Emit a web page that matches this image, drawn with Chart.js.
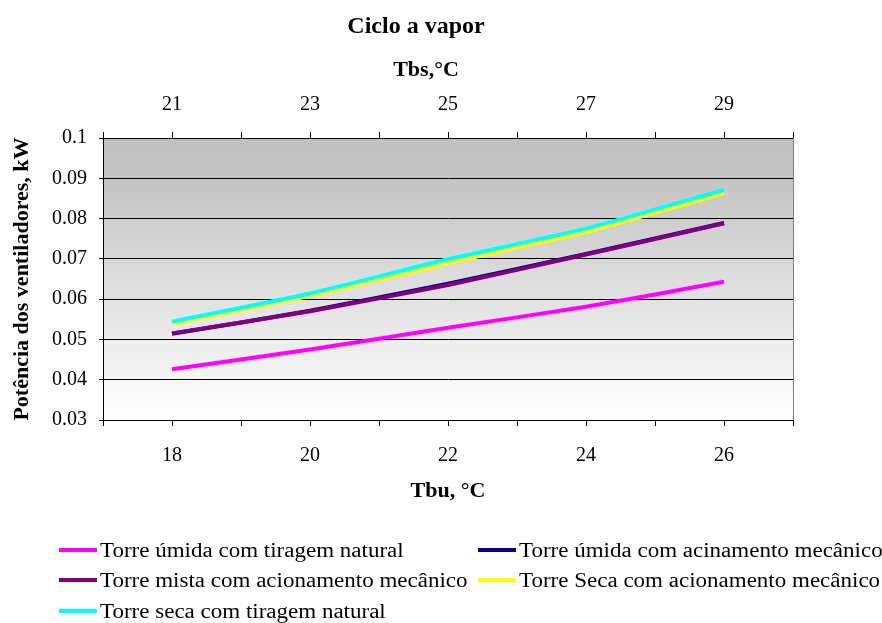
<!DOCTYPE html>
<html>
<head>
<meta charset="utf-8">
<script src="https://cdn.jsdelivr.net/npm/chart.js@4"></script>
<style>
  html, body { margin: 0; padding: 0; background: #fff; }
  #wrap { position: relative; width: 882px; height: 623px; }
  #c { position: absolute; left: 0; top: 0; }
  #legend { position: absolute; left: 0; top: 0; width: 882px; height: 623px; pointer-events: none;
    font-family: "Liberation Serif", "Times New Roman", serif; font-size: 20px; color: #000; }
  .item { position: absolute; white-space: nowrap; line-height: 20px; height: 20px; }
  .sw { position: absolute; top: 8px; height: 4px; width: 38px; }
  .tx { position: absolute; left: 41px; top: 0; transform: scaleX(1.15); transform-origin: 0 50%; }
</style>
</head>
<body>
<div id="wrap">
  <canvas id="c" width="882" height="623"></canvas>
  <div id="legend"></div>
</div>
<script>
// Data
const tbu = [18, 20, 22, 24, 26];           // bottom axis (Tbu, °C)
const tbs = [21, 23, 25, 27, 29];           // top axis (Tbs, °C)
const umidaNatural   = [0.0426, 0.0475, 0.0529, 0.0581, 0.0643];
const umidaMecanico  = [0.0514, 0.0571, 0.0638, 0.0712, 0.0789];
const mistaMecanico  = [0.0515, 0.0570, 0.0635, 0.0711, 0.0788];
const secaMecanico   = [0.0539, 0.0608, 0.0690, 0.0767, 0.0863];
const secaNatural    = [0.0544, 0.0614, 0.0699, 0.0775, 0.0871];
const seriesNames = [
  'Torre úmida com tiragem natural',
  'Torre úmida com acinamento mecânico',
  'Torre mista com acionamento mecânico',
  'Torre Seca com acionamento mecânico',
  'Torre seca com tiragem natural'
];
const seriesColors = ['#ff00ff', '#000080', '#800080', '#ffff00', '#00ffff'];
const seriesValues = [umidaNatural, umidaMecanico, mistaMecanico, secaMecanico, secaNatural];
const chartTitle = 'Ciclo a vapor';
const topAxisTitle = 'Tbs,°C';

const FONT = '"Liberation Serif", "Times New Roman", serif';

const datasets = seriesValues.map((vals, i) => ({
  label: seriesNames[i],
  data: vals.map((v, k) => ({ x: tbu[k], y: v })),
  borderColor: seriesColors[i],
  backgroundColor: seriesColors[i],
  borderWidth: 4,
  pointRadius: 0,
  tension: 0.15,
  fill: false,
  xAxisID: 'x',
  yAxisID: 'y',
  order: seriesValues.length - i
}));

const bgPlugin = {
  id: 'plotbg',
  beforeDraw(chart) {
    const { ctx, chartArea: a } = chart;
    const g = ctx.createLinearGradient(0, a.top, 0, a.bottom);
    g.addColorStop(0, '#c0c0c0');
    g.addColorStop(0.12, '#c2c2c2');
    g.addColorStop(1, '#ffffff');
    ctx.save();
    ctx.fillStyle = g;
    ctx.fillRect(a.left, a.top, a.right - a.left, a.bottom - a.top);
    ctx.restore();
  },
  afterDraw(chart) {
    const { ctx, chartArea: a } = chart;
    ctx.save();
    ctx.strokeStyle = '#808080';
    ctx.lineWidth = 1;
    ctx.beginPath();
    ctx.moveTo(a.right + 0.5, a.top);
    ctx.lineTo(a.right + 0.5, a.bottom);
    ctx.stroke();
    // chart title and top-axis title
    ctx.fillStyle = '#000';
    ctx.textAlign = 'center';
    ctx.textBaseline = 'middle';
    ctx.font = 'bold 24px ' + FONT;
    ctx.fillText(chartTitle, 416, 27);
    ctx.font = 'bold 22px ' + FONT;
    ctx.fillText(topAxisTitle, 426, 70);
    ctx.restore();
  }
};

new Chart(document.getElementById('c'), {
  type: 'line',
  data: { datasets },
  plugins: [bgPlugin],
  options: {
    responsive: false,
    animation: false,
    layout: { padding: { left: 0, right: 89, top: 0, bottom: 113 } },
    plugins: {
      legend: { display: false },
      tooltip: { enabled: false },
      title: { display: false }
    },
    scales: {
      x: {
        type: 'linear',
        position: 'bottom',
        min: 17, max: 27,
        afterFit(s) { s.height = 90; },
        ticks: {
          stepSize: 1,
          autoSkip: false,
          maxRotation: 0,
          color: '#000',
          font: { family: FONT, size: 20 },
          padding: 18,
          callback: (v) => tbu.includes(v) ? String(v) : ''
        },
        grid: { drawOnChartArea: false, drawTicks: true, tickLength: 6, color: '#000' },
        border: { color: '#000', width: 1 },
        title: {
          display: true, text: 'Tbu, °C', color: '#000',
          font: { family: FONT, size: 22, weight: 'bold' },
          padding: { top: 0, bottom: 5 }
        }
      },
      x2: {
        type: 'linear',
        position: 'top',
        min: 20, max: 30,
        afterFit(s) { s.height = 138; },
        ticks: {
          stepSize: 1,
          autoSkip: false,
          maxRotation: 0,
          color: '#000',
          font: { family: FONT, size: 20 },
          padding: 15,
          callback: (v) => tbs.includes(v) ? String(v) : ''
        },
        grid: { drawOnChartArea: false, drawTicks: true, tickLength: 6, color: '#000' },
        border: { color: '#000', width: 1 }
      },
      y: {
        type: 'linear',
        position: 'left',
        min: 0.03, max: 0.1,
        afterFit(s) { s.width = 103; },
        ticks: {
          stepSize: 0.01,
          color: '#000',
          font: { family: FONT, size: 20 },
          padding: 12,
          callback: (v) => String(Number(v.toFixed(2)))
        },
        grid: { drawOnChartArea: true, drawTicks: true, tickLength: 4, color: '#000', lineWidth: 1 },
        border: { color: '#000', width: 1 },
        title: {
          display: true, text: 'Potência dos ventiladores, kW', color: '#000',
          font: { family: FONT, size: 22, weight: 'bold' },
          padding: { top: 9, bottom: 0 }
        }
      }
    }
  }
});

// HTML legend (two columns)
const pos = [
  { left: 59, top: 540 }, { left: 478, top: 540 },
  { left: 59, top: 570 }, { left: 478, top: 570 },
  { left: 59, top: 601 }
];
const leg = document.getElementById('legend');
seriesNames.forEach((name, i) => {
  const d = document.createElement('div');
  d.className = 'item';
  d.style.left = pos[i].left + 'px';
  d.style.top = pos[i].top + 'px';
  const sw = document.createElement('span');
  sw.className = 'sw';
  sw.style.background = seriesColors[i];
  const tx = document.createElement('span');
  tx.className = 'tx';
  tx.textContent = name;
  d.appendChild(sw); d.appendChild(tx);
  leg.appendChild(d);
});
</script>
</body>
</html>
